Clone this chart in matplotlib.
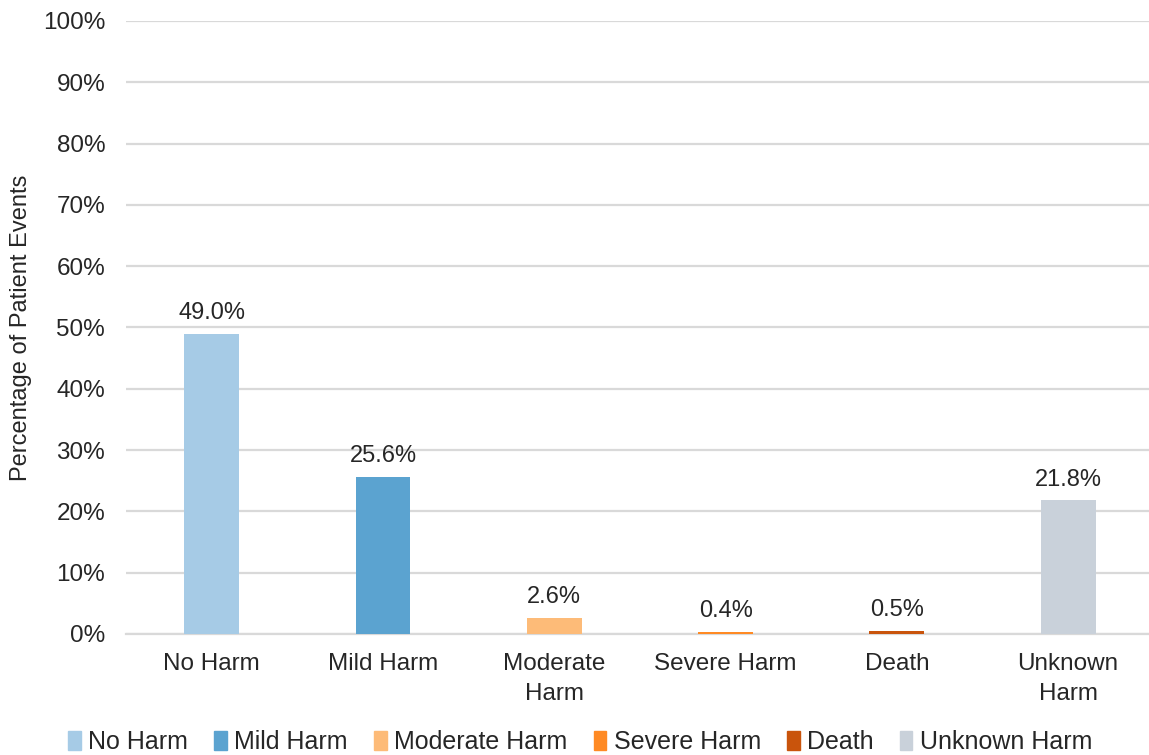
import matplotlib.pyplot as plt
from matplotlib.ticker import FuncFormatter

categories = ["No Harm", "Mild Harm", "Moderate\nHarm", "Severe Harm", "Death", "Unknown\nHarm"]
legend_names = ["No Harm", "Mild Harm", "Moderate Harm", "Severe Harm", "Death", "Unknown Harm"]
percentages = [49.0, 25.6, 2.6, 0.4, 0.5, 21.8]
colors = ["#A6CBE6", "#5BA3D0", "#FDBB78", "#FF8A24", "#C9540C", "#C9D1DA"]

plt.rcParams["font.family"] = ["Liberation Sans", "DejaVu Sans"]

fig = plt.figure(figsize=(11.49, 7.55), dpi=100)
ax = fig.add_axes([0.1097, 0.1603, 0.8903, 0.8119])

x = list(range(len(categories)))
bars = ax.bar(x, percentages, width=0.32, color=colors, zorder=3)
for xi, v in zip(x, percentages):
    ax.annotate(f"{v:.1f}%", (xi, v), xytext=(0, 7), textcoords="offset points",
                ha="center", va="bottom", fontsize=17, color="#262626")

ax.set_xlim(-0.5, 5.472)
ax.set_ylim(0, 100)
ax.set_yticks(range(0, 101, 10))
ax.yaxis.set_major_formatter(FuncFormatter(lambda v, _: f"{v:.0f}%"))
ax.set_xticks(x)
ax.set_xticklabels(categories, linespacing=1.45)
ax.tick_params(axis="both", length=0, labelsize=17.5, labelcolor="#262626")
ax.tick_params(axis="y", pad=15)
ax.tick_params(axis="x", pad=14)
ax.grid(axis="y", color="#D9D9D9", linewidth=1.6, zorder=0)
for side in ("top", "right", "left"):
    ax.spines[side].set_visible(False)
ax.spines["bottom"].set_color("#D9D9D9")
ax.spines["bottom"].set_linewidth(1.6)
ax.set_ylabel("Percentage of Patient Events", fontsize=17, color="#262626")
ax.yaxis.set_label_coords(-0.092, 0.5)

handles = [plt.Rectangle((0, 0), 1, 1, color=c) for c in colors]
fig.legend(handles, legend_names, loc="center", bbox_to_anchor=(0.505, 0.017), ncol=6,
           frameon=False, fontsize=18, handlelength=0.5, handleheight=0.85,
           handletextpad=0.3, columnspacing=1.05, labelcolor="#262626")

fig.savefig("out.png", dpi=100)
